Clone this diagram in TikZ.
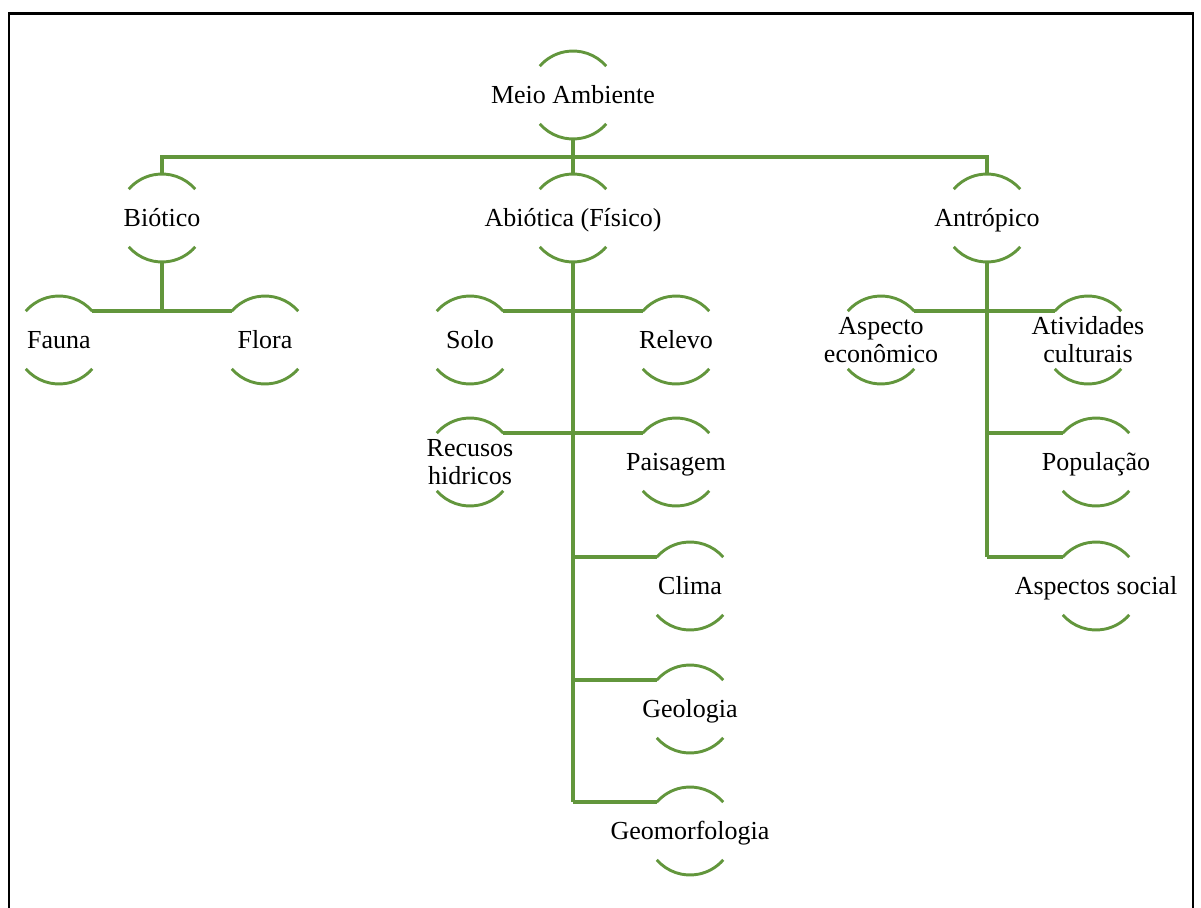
\documentclass[tikz,border=0pt]{standalone}
\usepackage{fontspec}
\setmainfont{Liberation Serif}
\definecolor{leaf}{RGB}{98,150,60}
\tikzset{
  x=1pt, y=1pt,
  ring/.style={circle, minimum size=88pt, inner sep=0pt, outer sep=0pt},
  lbl/.style={font=\fontsize{26}{28}\selectfont, align=center, inner sep=0pt, text=black},
  oneline/.style={text height=23pt, text depth=6pt},
  arcline/.style={draw=leaf, line width=2.9pt},
  conn/.style={draw=leaf, line width=3.3pt},
  frame/.style={draw=black, line width=2.8pt}
}
\newcommand{\ringnode}[5][oneline]{%
  \node[ring] (#2) at (#3,#4) {};
  \node[lbl,#1] (#2-t) at (#3,#4) {#5};
  \draw[arcline] (#2.41) arc (41:139:44);
  \draw[arcline] (#2.221) arc (221:319:44);
}
\begin{document}
\begin{tikzpicture}
\useasboundingbox (0,0) rectangle (1201,-907);
\begin{scope}
\clip (0,0) rectangle (1201,-907);
\draw[frame] (9,-920) -- (9,-13.5) -- (1193,-13.5) -- (1193,-920);
\end{scope}

\ringnode{meio}{573}{-95}{Meio Ambiente}
\ringnode{bio}{162}{-218}{Biótico}
\ringnode{abio}{573}{-218}{Abiótica (Físico)}
\ringnode{antr}{987}{-218}{Antrópico}
\ringnode{fauna}{59}{-340}{Fauna}
\ringnode{flora}{265}{-340}{Flora}
\ringnode{solo}{470}{-340}{Solo}
\ringnode{relevo}{676}{-340}{Relevo}
\ringnode[]{rec}{470}{-462}{Recusos\\hidricos}
\ringnode{pais}{676}{-462}{Paisagem}
\ringnode{clima}{690}{-586}{Clima}
\ringnode{geol}{690}{-709}{Geologia}
\ringnode{geom}{690}{-831}{Geomorfologia}
\ringnode[]{asp}{881}{-340}{Aspecto\\econômico}
\ringnode[]{ativ}{1088}{-340}{Atividades\\culturais}
\ringnode{pop}{1096}{-462}{População}
\ringnode{social}{1096}{-586}{Aspectos social}

% level 1
\draw[conn] (meio.south) -- (abio.north);
\draw[conn] (bio.north) -- ++(0,17) -| (antr.north);
% Biotico
\draw[conn] (bio.south) -- (bio.south |- fauna.41);
\draw[conn] (fauna.41) -- (flora.139);
% Abiotica
\draw[conn] (abio.south) -- (abio.south |- geom.139);
\draw[conn] (solo.41) -- (relevo.139);
\draw[conn] (rec.41) -- (pais.139);
\draw[conn] (clima.139) -- (clima.139 -| abio.south);
\draw[conn] (geol.139) -- (geol.139 -| abio.south);
\draw[conn] (geom.139) -- (geom.139 -| abio.south);
% Antropico
\draw[conn] (antr.south) -- (antr.south |- social.139);
\draw[conn] (asp.41) -- (ativ.139);
\draw[conn] (pop.139) -- (pop.139 -| antr.south);
\draw[conn] (social.139) -- (social.139 -| antr.south);
\end{tikzpicture}
\end{document}
